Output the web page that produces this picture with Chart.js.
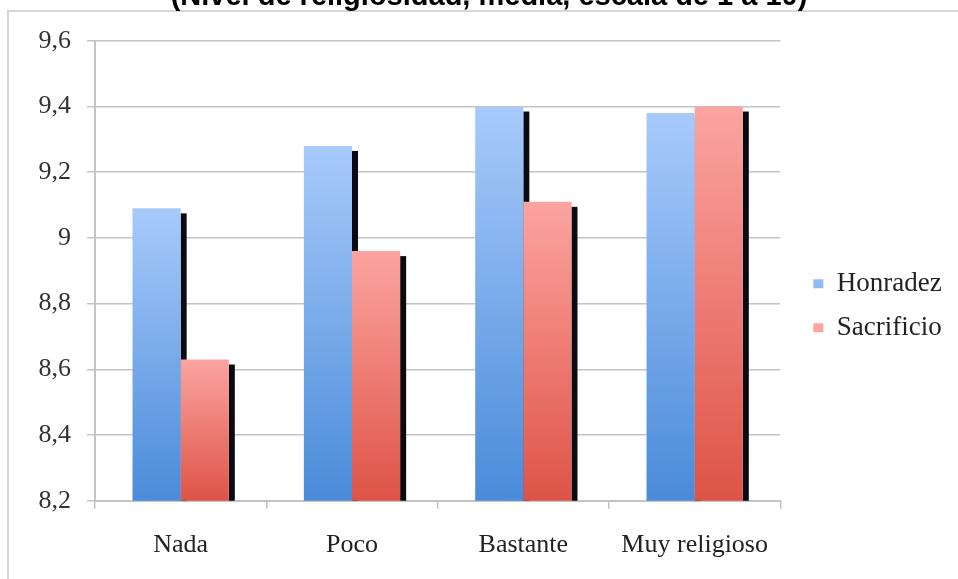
<!DOCTYPE html>
<html>
<head>
<meta charset="utf-8">
<script src="https://cdn.jsdelivr.net/npm/chart.js@4.4.1/dist/chart.umd.min.js"></script>
<style>
  html, body { margin: 0; padding: 0; background: #fff; }
  #wrap { position: relative; width: 958px; height: 579px; overflow: hidden; background: #fff; }
  #frame { position: absolute; left: 7px; top: 10px; right: -10px; bottom: -10px;
           border-left: 2px solid #d6d6d6; border-top: 2px solid #d6d6d6; }
  #box { position: absolute; left: 0; top: -40px; width: 958px; height: 619px; }
</style>
</head>
<body>
<div id="wrap">
  <div id="frame"></div>
  <div id="box"><canvas id="myChart"></canvas></div>
</div>
<script>
// data
const categories = ['Nada', 'Poco', 'Bastante', 'Muy religioso'];
const honradez = [9.09, 9.28, 9.40, 9.38];
const sacrificio = [8.63, 8.96, 9.11, 9.40];
const yTicks = [8.2, 8.4, 8.6, 8.8, 9.0, 9.2, 9.4, 9.6];
const chartTitle = '(Nivel de religiosidad, media, escala de 1 a 10)';

const serif = 'Liberation Serif';

// vertical gradient per bar, light on top, darker at the axis
function barFill(top, bottom, flat) {
    return function (ctx) {
        const chart = ctx.chart;
        const area = chart.chartArea;
        if (!area || ctx.type !== 'data') return flat;
        const y = chart.scales.y.getPixelForValue(ctx.raw);
        const g = chart.ctx.createLinearGradient(0, y, 0, area.bottom);
        g.addColorStop(0, top);
        g.addColorStop(1, bottom);
        return g;
    };
}

// dark shadow strip at the right side of every bar, painted before the bars
const barShadow = {
    id: 'barShadow',
    beforeDatasetsDraw(chart) {
        const c = chart.ctx;
        const area = chart.chartArea;
        c.save();
        c.beginPath();
        c.rect(area.left, area.top, area.right - area.left, area.bottom - area.top);
        c.clip();
        c.fillStyle = '#0a0a12';
        chart.data.datasets.forEach((ds, i) => {
            chart.getDatasetMeta(i).data.forEach(bar => {
                const p = bar.getProps(['x', 'y', 'base', 'width'], true);
                c.fillRect(p.x + p.width / 2, p.y + 5, 6, p.base - p.y - 5);
            });
        });
        c.restore();
    }
};

const gridColor = '#c4c4c4';

new Chart(document.getElementById('myChart'), {
    type: 'bar',
    data: {
        labels: categories,
        datasets: [{
            label: 'Honradez',
            data: honradez,
            backgroundColor: barFill('#a8cafb', '#4a8bd9', '#5d9be6')
        }, {
            label: 'Sacrificio',
            data: sacrificio,
            backgroundColor: barFill('#fca4a0', '#de5347', '#e4665e')
        }]
    },
    options: {
        responsive: true,
        maintainAspectRatio: false,
        animation: false,
        categoryPercentage: 0.562,
        barPercentage: 1.0,
        layout: { padding: { left: 28, right: 8, top: 0, bottom: -3 } },
        plugins: {
            title: {
                display: true,
                text: chartTitle,
                color: '#000',
                font: { family: 'Liberation Sans', size: 29, weight: 'bold' },
                padding: { top: 20, bottom: 26 }
            },
            legend: {
                position: 'right',
                align: 'start',
                title: { display: true, text: ' ', font: { size: 1 }, padding: { top: 292, bottom: 0 } },
                labels: {
                    boxWidth: 10,
                    boxHeight: 9,
                    padding: 17,
                    color: '#222',
                    font: { family: serif, size: 27 }
                }
            },
            tooltip: { enabled: false }
        },
        scales: {
            x: {
                grid: { offset: true, drawOnChartArea: false, drawTicks: true, tickLength: 8, color: gridColor, lineWidth: 1.5 },
                border: { color: gridColor, width: 2 },
                ticks: { color: '#222', font: { family: serif, size: 26 }, padding: 21 }
            },
            y: {
                min: 8.2,
                max: 9.6,
                afterBuildTicks(scale) {
                    scale.ticks = yTicks.map(v => ({ value: v }));
                },
                afterFit(scale) {
                    scale.width = 67;
                },
                grid: { color: gridColor, lineWidth: 1.5, tickLength: 8 },
                border: { color: gridColor, width: 2 },
                ticks: {
                    color: '#333',
                    padding: 16,
                    font: { family: serif, size: 26 },
                    callback: v => String(Math.round(v * 10) / 10).replace('.', ',')
                }
            },
            gap: {
                position: 'right',
                grid: { display: false },
                border: { display: false },
                ticks: { display: false },
                afterFit(scale) {
                    scale.width = 16;
                }
            }
        }
    },
    plugins: [barShadow]
});
</script>
</body>
</html>
